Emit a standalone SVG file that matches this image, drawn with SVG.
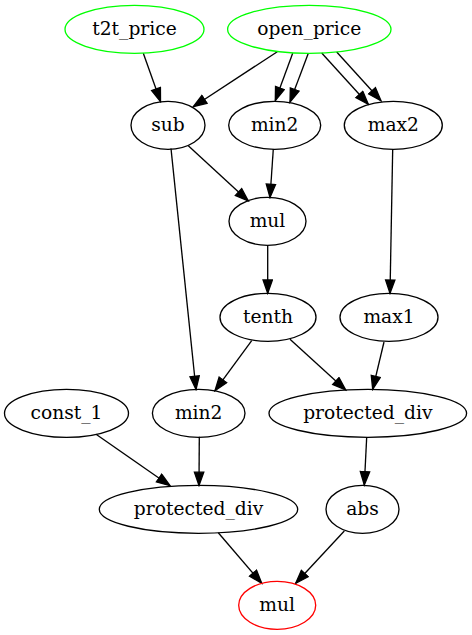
<svg xmlns="http://www.w3.org/2000/svg" width="472" height="635" viewBox="0 0 472 635">
<defs>
<style>
.n ellipse{fill:none;stroke:#000;stroke-width:1.33}
.n text{font-family:"DejaVu Serif","Liberation Serif",serif;font-size:18.67px;text-anchor:middle;fill:#000}
.g ellipse{stroke:#00ff00}
.r ellipse{stroke:#ff0000}
#edges line{stroke:#000;stroke-width:1.33;marker-end:url(#ah)}
</style>
<marker id="ah" markerUnits="userSpaceOnUse" markerWidth="16" markerHeight="12" refX="13.33" refY="4.67" orient="auto" viewBox="-1 -1 16 12">
<path d="M0,0 L13.33,4.67 L0,9.33 Z" fill="#000" stroke="#000" stroke-width="1.33"/>
</marker>
</defs>
<rect width="472" height="635" fill="#fff"/>
<g id="edges">
<line x1="143.3" y1="53.3" x2="160.5" y2="101.5"/>
<line x1="277.3" y1="51.7" x2="193.3" y2="106.7"/>
<line x1="292.7" y1="53.3" x2="275.3" y2="100.5"/>
<line x1="308.3" y1="53.3" x2="290" y2="102"/>
<line x1="321.7" y1="53" x2="368.3" y2="104.3"/>
<line x1="336.7" y1="52" x2="381" y2="100.7"/>
<line x1="188.3" y1="145.7" x2="248.3" y2="201"/>
<line x1="171" y1="148.5" x2="196" y2="389.5"/>
<line x1="273.3" y1="149" x2="270" y2="197.5"/>
<line x1="392.7" y1="149" x2="390" y2="293.3"/>
<line x1="267.7" y1="245.7" x2="267.7" y2="293.3"/>
<line x1="251.7" y1="340.7" x2="215" y2="390.7"/>
<line x1="290" y1="339.3" x2="345.7" y2="390"/>
<line x1="384" y1="342" x2="372.7" y2="389.3"/>
<line x1="96" y1="434.3" x2="170" y2="485.7"/>
<line x1="199.3" y1="436.7" x2="199" y2="485.5"/>
<line x1="366.7" y1="437" x2="364.3" y2="485"/>
<line x1="218.3" y1="532.7" x2="261.7" y2="583.3"/>
<line x1="344.3" y1="531" x2="295.7" y2="583.3"/>
</g>
<g id="t2t_price" class="n g"><ellipse cx="134.5" cy="29.3" rx="69.5" ry="24"/><text x="134.5" y="35.3">t2t_price</text></g>
<g id="open_price" class="n g"><ellipse cx="309.3" cy="29.3" rx="81.7" ry="24"/><text x="309.3" y="35.3">open_price</text></g>
<g id="sub" class="n"><ellipse cx="168" cy="125.3" rx="37" ry="24"/><text x="168" y="131.3">sub</text></g>
<g id="min2_a" class="n"><ellipse cx="274.7" cy="125.3" rx="46" ry="24"/><text x="274.7" y="131.3">min2</text></g>
<g id="max2" class="n"><ellipse cx="393.3" cy="125.3" rx="49" ry="24"/><text x="393.3" y="131.3">max2</text></g>
<g id="mul_a" class="n"><ellipse cx="267.5" cy="221.3" rx="38.5" ry="24"/><text x="267.5" y="227.3">mul</text></g>
<g id="tenth" class="n"><ellipse cx="268" cy="317.3" rx="48" ry="24"/><text x="268" y="323.3">tenth</text></g>
<g id="max1" class="n"><ellipse cx="389" cy="317.3" rx="49" ry="24"/><text x="389" y="323.3">max1</text></g>
<g id="const_1" class="n"><ellipse cx="66.5" cy="413.3" rx="62" ry="24"/><text x="66.5" y="419.3">const_1</text></g>
<g id="min2_b" class="n"><ellipse cx="198.7" cy="413.3" rx="46.3" ry="24"/><text x="198.7" y="419.3">min2</text></g>
<g id="protected_div_a" class="n"><ellipse cx="367.8" cy="413.3" rx="98.8" ry="24"/><text x="367.8" y="419.3">protected_div</text></g>
<g id="protected_div_b" class="n"><ellipse cx="198.5" cy="509.3" rx="99.2" ry="24"/><text x="198.5" y="515.3">protected_div</text></g>
<g id="abs" class="n"><ellipse cx="362.5" cy="509.3" rx="36.5" ry="24"/><text x="362.5" y="515.3">abs</text></g>
<g id="mul_b" class="n r"><ellipse cx="277.2" cy="605.3" rx="38.5" ry="24"/><text x="277.2" y="611.3">mul</text></g>
</svg>
